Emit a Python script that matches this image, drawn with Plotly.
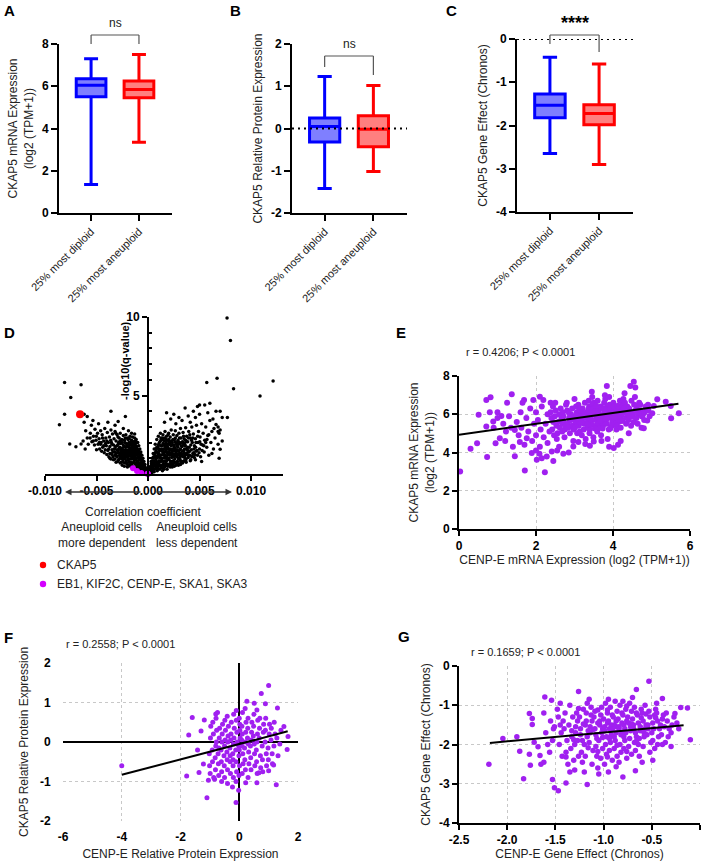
import plotly.graph_objects as go

W, H = 705, 861
def fx(p): return p / W
def fy(p): return 1 - p / H

FONT = "Liberation Sans, Arial, sans-serif"
TXT = "#222222"
GROUPS = ["25% most diploid", "25% most aneuploid"]
BLUE, RED = "#0000ff", "#ff0000"
BLUE_FILL, RED_FILL = "rgba(0,0,255,0.5)", "rgba(255,0,0,0.5)"
PURPLE = "#a020f0"
MAGENTA = "#d400ff"

# ---- box statistics: [lowerfence, q1, median, q3, upperfence] ----
A_diploid = [1.35, 5.50, 6.05, 6.35, 7.30]
A_aneuploid = [3.35, 5.45, 5.85, 6.25, 7.50]
B_diploid = [-1.42, -0.32, 0.05, 0.25, 1.23]
B_aneuploid = [-1.02, -0.43, -0.02, 0.30, 1.02]
C_diploid = [-2.65, -1.82, -1.53, -1.27, -0.42]
C_aneuploid = [-2.90, -1.98, -1.72, -1.52, -0.58]

# ---- D volcano (x in units of 1e-3 correlation, y = -log10 q) ----
D_left = [
(-0.1,0.1),(-0.15,0.25),(-0.2,0.05),(-0.25,0.4),(-0.3,0.2),(-0.3,0.6),(-0.35,0.1),(-0.4,0.45),(-0.4,0.8),(-0.45,0.3),
(-0.5,0.15),(-0.5,0.6),(-0.5,1.0),(-0.55,0.4),(-0.6,0.8),(-0.6,1.2),(-0.65,0.25),(-0.65,0.55),(-0.7,1.0),(-0.7,1.4),
(-0.75,0.7),(-0.75,0.35),(-0.8,1.15),(-0.8,1.6),(-0.85,0.5),(-0.85,0.9),(-0.9,1.3),(-0.9,1.8),(-0.95,0.7),(-0.95,0.3),
(-1.0,1.05),(-1.0,1.5),(-1.0,2.0),(-1.05,0.55),(-1.1,1.25),(-1.1,1.75),(-1.1,0.85),(-1.15,2.2),(-1.15,0.4),(-1.2,1.0),
(-1.2,1.45),(-1.2,1.95),(-1.25,0.65),(-1.3,1.2),(-1.3,1.7),(-1.3,2.3),(-1.35,0.9),(-1.35,0.45),(-1.4,1.5),(-1.4,2.05),
(-1.45,1.1),(-1.45,0.7),(-1.5,1.8),(-1.5,2.35),(-1.5,1.3),(-1.55,0.5),(-1.6,0.95),(-1.6,1.6),(-1.6,2.15),(-1.65,1.35),
(-1.7,0.75),(-1.7,1.9),(-1.75,2.4),(-1.75,1.15),(-1.8,0.55),(-1.8,1.55),(-1.85,2.0),(-1.9,0.9),(-1.9,1.3),(-1.95,1.75),
(-2.0,2.3),(-2.0,0.6),(-2.0,1.1),(-2.05,1.5),(-2.1,1.95),(-2.1,0.85),(-2.15,2.5),(-2.2,1.3),(-2.2,1.7),(-2.25,0.7),
(-2.3,2.15),(-2.3,1.05),(-2.35,1.5),(-2.4,1.85),(-2.4,2.45),(-2.45,0.9),(-2.5,1.25),(-2.5,1.65),(-2.55,2.2),(-2.6,0.75),
(-2.6,1.45),(-2.65,1.95),(-2.7,1.1),(-2.7,2.6),(-2.75,1.7),(-2.8,0.95),(-2.8,2.3),(-2.85,1.35),(-2.9,1.9),(-2.95,0.8),
(-3.0,1.55),(-3.0,2.5),(-3.05,1.15),(-3.1,2.1),(-3.15,1.75),(-3.2,0.95),(-3.2,2.7),(-3.25,1.4),(-3.3,2.25),(-3.35,1.85),
(-3.4,1.1),(-3.45,2.55),(-3.5,1.55),(-3.55,2.0),(-3.6,0.95),(-3.6,2.8),(-3.65,1.3),(-3.7,1.75),(-3.75,2.35),(-3.8,1.1),
(-3.85,2.0),(-3.9,1.5),(-3.95,2.65),(-4.0,1.25),(-4.05,1.8),(-4.1,2.3),(-4.15,1.55),(-4.2,2.9),(-4.25,1.35),(-4.3,2.1),
(-4.4,1.7),(-4.45,2.5),(-4.5,1.45),(-4.55,2.0),(-4.6,2.75),(-4.7,1.6),(-4.75,2.25),(-4.85,1.9),(-4.9,2.6),(-5.0,1.55),
(-5.05,2.15),(-5.15,2.85),(-5.2,1.85),(-5.3,2.4),(-5.45,2.05),(-5.5,3.1),(-5.6,2.6),(-5.8,1.9),(-5.9,2.3),(-6.05,2.75),
(-6.2,3.3),(-5.35,3.4),(-4.8,3.2),(-3.9,3.3),(-3.2,3.1),(-2.9,3.35),(-2.4,2.9),(-1.9,2.75),(-1.6,2.6),(-1.3,2.55),
(-6.3,2.1),(-6.1,1.6),
(-0.55,0.75),(-0.7,0.6),(-0.85,1.35),(-0.95,1.05),(-1.05,1.6),(-1.15,1.3),(-1.25,1.8),(-1.25,1.05),(-1.35,1.55),(-1.45,1.9),
(-1.45,1.4),(-1.55,1.7),(-1.55,1.05),(-1.65,2.0),(-1.65,0.7),(-1.75,1.45),(-1.85,1.2),(-1.85,1.75),(-1.95,2.2),(-2.05,1.25),
(-2.15,1.7),(-2.25,2.0),(-2.35,1.2),(-2.45,1.55),(-2.55,1.0),(-2.65,1.6),(-2.75,1.3),(-2.85,2.0),(-3.0,1.8),(-3.1,1.3),
(-3.3,1.6),(-3.5,1.9),(-3.7,1.3),(-4.0,2.1),(-4.3,1.8),(-4.6,1.9),
(-0.22,0.3),(-0.32,0.45),(-0.42,0.2),(-0.52,0.85),(-0.62,0.45),(-0.72,1.25),(-0.82,0.65),(-0.92,1.55),(-1.02,0.8),(-1.12,1.55),
(-1.22,2.1),(-1.32,1.0),(-1.42,1.7),(-1.52,2.05),(-1.62,1.2),(-1.72,1.65),(-1.82,2.25),(-1.92,1.5),(-2.02,1.85),(-2.12,1.1),
(-2.22,2.3),(-2.32,1.75),(-2.42,1.3),(-2.52,2.0),(-2.62,1.2),(-2.72,2.1),(-2.82,1.6),(-2.92,2.35),(-3.02,1.35),(-3.12,2.6),
(-3.22,1.6),(-3.42,1.4),(-3.62,2.15),(-3.82,1.6),(-4.12,1.95),(-4.42,2.3),(-4.72,2.0),(-5.02,2.4),(-5.32,2.1),(-5.62,2.3),
(-0.2,0.15),(-0.3,0.35),(-0.35,0.5),(-0.45,0.55),(-0.45,0.15),(-0.55,0.6),(-0.6,0.35),(-0.65,0.9),(-0.7,0.2),(-0.75,1.1),
(-0.8,0.45),(-0.85,0.7),(-0.9,1.05),(-0.9,0.4),(-0.95,1.4),(-1.0,0.6),(-1.0,0.25),(-1.05,1.2),(-1.1,1.55),(-1.1,0.5),
(-1.15,0.95),(-1.2,1.7),(-1.2,0.7),(-1.25,1.35),(-1.3,0.3),(-1.3,0.95),(-1.35,1.9),(-1.4,0.75),(-1.4,1.25),(-1.45,1.65),
(-1.5,0.45),(-1.5,1.05),(-1.55,1.45),(-1.6,2.0),(-1.6,0.65),(-1.65,1.15),(-1.7,1.6),(-1.7,0.5),(-1.75,0.95),(-1.8,1.3),
(-1.8,1.85),(-1.85,0.75),(-1.9,1.55),(-1.95,1.0),(-2.0,0.45),(-2.0,1.35),(-2.05,1.8),(-2.1,0.7),(-2.15,1.15),(-2.2,1.5),
(-2.25,0.95),(-2.3,0.5),(-2.35,1.35),(-2.4,0.75),(-2.45,1.15),(-2.5,0.55),(-2.55,1.4),(-2.6,1.0),(-2.7,0.7),(-2.75,1.2),
(-2.85,0.9),(-2.9,1.5),(-3.0,1.1),(-3.1,0.75),(-3.2,1.2),(-3.35,0.9),(-3.5,1.25),(-3.7,1.0),
(-8.1,5.83),(-6.5,5.68),(-7.5,4.87),(-8.1,3.81),(-8.6,3.13),(-7.6,1.91),(-7.0,1.74),(-6.5,1.91),(-5.9,3.66),(-3.6,4.0),
(-2.2,3.66),(-6.2,3.8),
]
D_right = [
(0.1,0.1),(0.15,0.3),(0.2,0.05),(0.25,0.5),(0.3,0.2),(0.3,0.8),(0.35,0.4),(0.4,1.0),(0.4,0.1),(0.45,0.6),
(0.5,1.3),(0.5,0.3),(0.55,0.85),(0.6,1.6),(0.6,0.15),(0.65,0.55),(0.7,1.15),(0.7,1.9),(0.75,0.35),(0.8,0.8),
(0.8,1.45),(0.85,2.2),(0.9,0.2),(0.9,1.05),(0.95,1.7),(1.0,0.5),(1.0,2.4),(1.05,1.3),(1.1,0.8),(1.1,2.0),
(1.15,0.3),(1.2,1.55),(1.2,2.6),(1.25,1.0),(1.3,0.55),(1.3,2.2),(1.35,1.8),(1.4,1.25),(1.4,0.2),(1.45,2.5),
(1.5,0.8),(1.5,1.6),(1.55,2.1),(1.6,1.05),(1.6,0.45),(1.65,2.7),(1.7,1.4),(1.7,1.9),(1.75,0.7),(1.8,2.4),
(1.8,1.15),(1.85,0.3),(1.9,1.7),(1.9,2.15),(1.95,0.95),(2.0,1.4),(2.0,2.6),(2.05,0.55),(2.1,1.9),(2.1,1.2),
(2.15,2.35),(2.2,0.8),(2.2,1.6),(2.25,2.8),(2.3,1.05),(2.3,2.1),(2.35,0.45),(2.4,1.45),(2.4,1.85),(2.45,2.5),
(2.5,0.7),(2.5,1.25),(2.55,2.2),(2.6,1.65),(2.6,0.95),(2.65,2.75),(2.7,1.4),(2.7,0.55),(2.75,1.95),(2.8,1.1),
(2.8,2.45),(2.85,0.8),(2.9,1.7),(2.9,2.15),(2.95,1.25),(3.0,0.65),(3.0,2.6),(3.05,1.5),(3.1,1.95),(3.1,0.95),
(3.15,2.9),(3.2,1.3),(3.2,2.3),(3.25,0.75),(3.3,1.75),(3.35,2.05),(3.4,1.1),(3.4,2.65),(3.45,1.5),(3.5,0.85),
(3.5,2.25),(3.55,1.9),(3.6,1.25),(3.65,2.95),(3.7,1.6),(3.7,0.95),(3.75,2.4),(3.8,1.35),(3.85,2.05),(3.9,1.05),
(3.95,2.7),(4.0,1.7),(4.05,1.2),(4.1,2.3),(4.15,0.9),(4.2,1.55),(4.25,3.0),(4.3,2.0),(4.35,1.3),(4.4,2.55),
(4.5,1.05),(4.5,1.8),(4.6,2.25),(4.65,1.45),(4.7,3.1),(4.8,1.2),(4.85,2.0),(4.9,2.7),(5.0,1.6),(5.05,2.35),
(5.1,1.1),(5.2,3.2),(5.3,1.85),(5.35,2.6),(5.45,1.4),(5.5,2.15),(5.6,3.0),(5.7,1.7),(5.8,2.45),(5.9,1.2),
(6.0,3.4),(6.1,2.0),(6.2,2.7),(6.35,1.6),(6.5,2.3),(6.6,3.15),(6.8,1.9),(6.9,2.6),(7.0,2.8),(7.2,2.1),
(1.6,3.3),(1.8,3.9),(2.2,3.5),(2.5,3.8),(2.7,3.2),(3.0,3.6),(3.3,3.4),(3.6,4.2),(3.9,3.7),(4.1,3.3),
(4.4,4.0),(4.6,3.6),(4.8,4.3),(5.0,3.8),(5.5,4.4),(5.8,3.9),(6.3,3.5),(6.6,4.0),(6.8,3.0),
(0.55,0.2),(0.65,1.3),(0.75,0.95),(0.85,0.45),(0.95,1.35),(1.05,0.65),(1.05,1.9),(1.15,1.15),(1.25,0.45),(1.25,2.3),
(1.35,0.85),(1.35,1.45),(1.45,0.55),(1.45,1.95),(1.55,1.25),(1.55,0.3),(1.65,0.85),(1.65,1.75),(1.75,1.5),(1.75,2.2),
(1.85,0.6),(1.85,1.0),(1.95,1.9),(1.95,2.5),(2.05,1.6),(2.05,0.9),(2.15,0.45),(2.15,1.35),(2.25,1.8),(2.25,0.6),
(2.35,2.0),(2.35,1.2),(2.45,0.85),(2.45,1.6),(2.55,0.5),(2.55,1.85),(2.65,1.15),(2.65,2.3),(2.75,0.75),(2.75,1.55),
(2.85,2.0),(2.85,1.25),(2.95,0.55),(2.95,1.9),(3.05,2.3),(3.05,1.05),(3.15,1.6),(3.15,0.6),(3.25,2.0),(3.25,1.15),
(3.35,1.45),(3.35,0.7),(3.45,2.4),(3.45,1.85),(3.55,1.05),(3.55,1.6),(3.65,0.85),(3.65,2.15),(3.75,1.25),(3.85,1.7),
(3.95,1.4),(4.05,2.5),(4.15,1.85),(4.25,1.1),(4.35,2.3),(4.45,1.6),(4.55,1.25),(4.65,2.0),(4.75,1.5),(4.95,1.35),
(5.15,1.9),(5.25,1.5),(5.6,2.0),(5.9,2.5),(6.2,1.3),(6.4,2.9),
(0.22,0.35),(0.32,0.65),(0.42,0.35),(0.52,1.05),(0.62,0.7),(0.72,1.6),(0.82,1.1),(0.92,0.6),(1.02,1.6),(1.12,1.05),
(1.22,1.8),(1.32,1.0),(1.42,2.2),(1.52,1.4),(1.62,2.3),(1.72,1.05),(1.82,1.8),(1.92,1.25),(2.02,2.2),(2.12,1.55),
(2.22,2.05),(2.32,1.35),(2.42,2.2),(2.52,1.5),(2.62,2.05),(2.72,1.2),(2.82,1.8),(2.92,1.45),(3.02,2.0),(3.12,1.2),
(3.22,1.8),(3.32,1.25),(3.42,2.0),(3.52,1.35),(3.62,1.8),(3.72,2.05),(3.82,1.55),(3.92,2.3),(4.02,1.45),(4.22,2.15),
(4.42,1.35),(4.62,1.7),(4.82,2.4),(5.02,2.05),(5.42,1.8),(5.72,2.2),
(0.2,0.2),(0.3,0.45),(0.35,0.15),(0.45,0.8),(0.5,0.45),(0.55,1.1),(0.6,0.3),(0.65,0.75),(0.7,1.35),(0.75,0.5),
(0.8,1.0),(0.85,1.7),(0.9,0.7),(0.95,0.35),(0.95,1.2),(1.0,1.85),(1.05,0.85),(1.1,1.5),(1.15,0.55),(1.2,1.2),
(1.2,2.1),(1.25,0.8),(1.3,1.6),(1.35,0.4),(1.4,1.0),(1.4,2.3),(1.45,1.45),(1.5,0.65),(1.55,1.85),(1.6,1.2),
(1.65,0.55),(1.7,1.6),(1.75,2.0),(1.8,0.85),(1.85,1.35),(1.9,0.5),(1.95,1.6),(2.0,1.0),(2.05,2.05),(2.1,0.65),
(2.15,1.25),(2.2,1.85),(2.3,0.8),(2.35,1.5),(2.4,0.6),(2.5,1.1),(2.55,1.7),(2.6,0.75),(2.7,1.3),(2.8,0.6),
(2.85,1.5),(2.95,0.95),(3.05,1.3),(3.15,0.85),(3.3,1.2),(3.4,0.8),(3.55,1.15),(3.7,0.75),(3.9,1.2),(4.1,0.85),
(4.3,1.15),(4.6,0.9),
(7.67,9.94),(8.0,8.5),(8.3,5.43),(6.7,6.1),(5.7,5.83),(7.7,3.6),(7.0,4.0),(6.0,4.5),(5.0,4.4),(7.0,1.57),
(6.8,2.7),(12.14,5.92),(10.87,4.97),(7.2,3.6),(6.9,1.0),(5.2,0.8),
]
D_ckap5 = [(-6.6, 3.81)]
D_partners = [(-1.46, 0.36), (-1.07, 0.19), (-0.65, 0.06), (-0.05, 0.02), (0.0, 0.0)]

# ---- E: CENP-E vs CKAP5 mRNA ----
E_pts = [
(0.03,3.0),(0.3,4.19),(0.47,4.49),(0.51,5.97),(0.73,3.76),(0.71,6.75),(0.82,6.89),(0.71,5.36),(0.89,5.62),(0.95,4.49),
(1.06,4.75),(1.10,5.91),(1.22,5.1),(1.37,7.04),(1.45,3.8),(1.69,6.75),(1.71,3.06),(1.45,5.18),(1.76,4.75),(1.89,3.97),
(2.02,3.62),(2.09,3.93),(2.23,2.97),(2.28,3.79),(2.41,4.05),(2.71,3.93),(2.97,4.31),(3.28,4.45),(3.5,4.57),(4.02,4.23),
(4.41,5.0),(4.54,7.7),(4.58,7.4),(4.45,7.48),(3.84,7.48),(3.45,7.18),(5.15,6.78),(5.37,6.66),(5.5,6.43),(5.51,5.79),
(5.71,6.05),(5.02,6.05),(5.06,6.43),(4.89,5.67),(4.76,5.88),(4.8,5.27),(2.1,6.92),(2.19,6.75),(1.93,6.75),
(0.9,5.3),(1.0,5.8),(1.15,5.5),(1.2,4.6),(1.3,5.9),(1.35,5.3),(1.5,5.6),(1.55,4.9),(1.6,6.1),(1.62,5.3),
(1.7,4.4),(1.75,5.8),(1.8,5.1),(1.85,6.3),(1.9,4.6),(1.95,5.5),(2.0,4.9),(2.0,6.1),(2.05,5.7),(2.1,4.3),
(2.12,5.2),(2.15,6.4),(2.2,4.8),(2.25,5.5),(2.3,6.0),(2.3,4.5),(2.35,5.1),(2.38,6.6),(1.4,4.3),(1.58,4.55),
(1.0,6.1),(0.8,6.1),(1.25,6.6),(1.65,6.6),(2.0,4.1),(2.15,3.7),(2.45,3.55),(2.6,4.3),(2.55,4.1),(2.85,4.0),
(3.1,4.55),(3.4,4.35),(3.7,4.6),(3.9,4.3),(4.2,4.6),
(2.42,5.2),(2.45,5.6),(2.38,6.1),(2.47,4.9),(2.40,5.8),(2.44,6.4),
(2.53,5.4),(2.49,5.9),(2.56,5.0),(2.51,6.2),(2.58,5.6),(2.54,4.7),(2.50,6.6),
(2.62,5.3),(2.66,5.7),(2.60,6.0),(2.68,5.1),(2.64,6.3),(2.69,5.5),
(2.72,5.6),(2.75,5.2),(2.71,5.9),(2.78,6.5),(2.74,4.8),(2.77,5.4),(2.70,6.1),
(2.83,5.5),(2.86,5.8),(2.81,6.2),(2.88,5.0),(2.84,5.3),(2.80,6.6),(2.89,5.7),
(2.92,5.9),(2.95,5.4),(2.91,6.0),(2.98,5.2),(2.94,6.3),(2.97,4.6),(2.90,5.7),
(3.03,5.6),(3.06,6.1),(3.01,5.3),(3.08,5.8),(3.04,6.4),(3.07,5.0),(3.00,6.8),(3.09,5.5),
(3.12,5.7),(3.15,6.0),(3.11,5.4),(3.18,6.2),(3.14,5.1),(3.17,5.9),(3.10,6.5),(3.19,4.9),
(3.22,5.8),(3.25,5.5),(3.21,6.3),(3.28,6.0),(3.24,5.2),(3.27,6.6),(3.20,5.6),(3.29,4.7),
(3.32,6.1),(3.35,5.6),(3.31,5.9),(3.38,6.4),(3.34,5.3),(3.37,6.7),(3.30,5.8),(3.39,5.0),
(3.42,5.9),(3.45,6.2),(3.41,5.5),(3.48,6.0),(3.44,5.7),(3.47,6.5),(3.40,5.2),(3.49,4.8),(3.46,6.9),
(3.52,6.0),(3.55,5.7),(3.51,6.3),(3.58,5.4),(3.54,6.1),(3.57,5.9),(3.50,6.6),(3.59,5.1),
(3.62,6.2),(3.65,5.8),(3.61,5.5),(3.68,6.4),(3.64,6.0),(3.67,5.3),(3.60,6.7),(3.69,4.9),
(3.72,5.9),(3.75,6.3),(3.71,5.6),(3.78,6.1),(3.74,5.4),(3.77,6.6),(3.70,5.8),(3.79,7.0),
(3.82,6.0),(3.85,6.4),(3.81,5.7),(3.88,6.2),(3.84,5.5),(3.87,5.9),(3.80,6.8),(3.89,5.2),(3.86,4.7),
(3.92,6.1),(3.95,5.8),(3.91,6.5),(3.98,5.6),(3.94,6.3),(3.97,5.4),(3.90,6.9),(3.99,6.0),
(4.02,6.2),(4.05,5.9),(4.01,6.6),(4.08,5.7),(4.04,6.4),(4.07,5.5),(4.00,6.0),(4.09,5.2),
(4.12,6.0),(4.15,6.3),(4.11,5.8),(4.18,6.7),(4.14,5.6),(4.17,6.1),(4.10,5.4),(4.13,4.4),
(4.22,6.1),(4.25,6.5),(4.21,5.9),(4.28,6.3),(4.24,5.7),(4.27,6.8),(4.20,5.3),
(4.32,6.2),(4.35,5.8),(4.31,6.6),(4.38,6.0),(4.34,5.5),(4.37,6.4),(4.30,7.1),
(4.42,6.3),(4.45,6.0),(4.41,5.7),(4.48,6.7),(4.44,6.1),(4.47,5.4),
(4.52,6.1),(4.55,6.5),(4.51,5.9),(4.58,6.2),(4.54,5.6),(4.57,6.9),
(4.62,6.4),(4.65,6.0),(4.61,5.8),(4.68,6.6),(4.64,5.5),
(4.72,6.2),(4.75,5.9),(4.71,6.5),(4.78,6.0),(4.74,5.3),
(4.82,6.1),(4.85,6.4),(4.81,5.7),(4.88,6.3),
(4.92,6.2),(4.95,5.9),(4.91,6.5),
(2.96,5.75),(3.05,5.95),(3.16,5.55),(3.26,5.85),(3.36,6.25),(3.46,5.45),(3.56,6.45),(3.66,5.65),(3.76,6.25),(3.86,6.05),
(3.96,5.95),(4.06,6.15),(4.16,5.95),(4.26,6.05),(4.36,6.15),(3.13,6.25),(3.33,5.45),(3.53,5.25),(3.73,5.25),(3.93,5.25),
(4.03,5.85),(4.23,5.65),(4.43,5.85),(2.86,6.05),(2.66,5.85),(3.43,6.05),(3.63,6.05),(3.83,5.75),(4.13,6.45),(4.33,6.35),
]
E_fit_x = [0.0, 5.7]
E_fit_y = [4.93, 6.55]

# ---- F: CENP-E vs CKAP5 relative protein ----
F_pts = [
(-4.0,-0.6),(-1.6,0.62),(-1.72,0.18),(-1.79,-0.86),(-1.1,-1.41),(-0.11,-1.53),(-0.02,-1.22),(1.0,1.43),(0.75,1.23),(1.3,0.86),
(1.26,-1.08),(1.63,-0.19),(1.66,0.14),(1.52,0.39),(-1.42,-0.2),(-1.3,0.28),(-1.37,-0.77),(-1.05,-0.97),(-0.8,0.71),(-0.74,0.75),
(0.26,1.03),(0.51,0.98),(0.89,0.97),(0.6,0.81),(0.67,-0.78),(1.0,-0.73),(1.17,-0.58),(0.6,-1.03),(0.22,-1.03),(-0.23,-1.14),
(-0.84,-0.94),(-1.22,-0.56),(-1.19,0.56),
(-1.02,-0.3),(-0.98,0.1),(-1.01,-0.6),(-0.97,0.4),(-0.99,-0.8),
(-0.92,-0.2),(-0.88,0.2),(-0.91,-0.5),(-0.87,-0.9),(-0.9,0.5),
(-0.82,-0.4),(-0.78,0.0),(-0.81,-0.7),(-0.77,0.3),(-0.8,-0.1),(-0.79,0.6),
(-0.72,-0.3),(-0.68,0.1),(-0.71,-0.55),(-0.67,0.35),(-0.7,-0.85),(-0.69,-0.15),
(-0.62,-0.2),(-0.58,0.2),(-0.61,-0.5),(-0.57,0.45),(-0.6,-0.75),(-0.59,0.0),(-0.6,-1.0),
(-0.52,-0.35),(-0.48,0.05),(-0.51,-0.6),(-0.47,0.3),(-0.5,-0.1),(-0.49,0.55),(-0.5,-0.9),
(-0.42,-0.25),(-0.38,0.15),(-0.41,-0.45),(-0.37,0.4),(-0.4,-0.7),(-0.39,0.0),(-0.4,-1.05),(-0.41,0.65),
(-0.32,-0.15),(-0.28,0.2),(-0.31,-0.5),(-0.27,0.5),(-0.3,-0.8),(-0.29,0.05),(-0.31,-0.35),
(-0.22,-0.3),(-0.18,0.1),(-0.21,-0.6),(-0.17,0.35),(-0.2,-0.05),(-0.19,0.7),(-0.2,-0.9),(-0.21,-0.45),
(-0.12,-0.2),(-0.08,0.25),(-0.11,-0.5),(-0.07,0.0),(-0.1,0.55),(-0.09,-0.75),(-0.1,0.8),(-0.11,-1.0),
(-0.02,-0.1),(0.02,0.3),(-0.01,-0.35),(0.03,0.1),(0.0,0.6),(0.01,-0.6),(-0.01,-0.85),(0.02,0.45),(0.0,-0.2),
(0.08,0.05),(0.12,-0.3),(0.09,0.4),(0.13,-0.55),(0.1,0.2),(0.11,0.75),(0.1,-0.8),(0.09,-0.1),
(0.18,-0.15),(0.22,0.25),(0.19,-0.45),(0.23,0.5),(0.2,0.0),(0.21,-0.7),(0.2,0.85),
(0.28,0.1),(0.32,-0.25),(0.29,0.35),(0.33,-0.55),(0.3,0.6),(0.31,-0.05),(0.3,-0.9),
(0.38,-0.1),(0.42,0.25),(0.39,-0.4),(0.43,0.5),(0.4,-0.7),(0.41,0.05),
(0.48,0.15),(0.52,-0.3),(0.49,0.4),(0.53,-0.6),(0.5,0.7),(0.51,-0.05),
(0.58,-0.2),(0.62,0.2),(0.59,-0.5),(0.63,0.55),(0.6,0.0),(0.61,-0.8),
(0.68,0.1),(0.72,-0.35),(0.69,0.35),(0.73,-0.65),(0.7,0.6),
(0.78,-0.1),(0.82,0.25),(0.79,-0.45),(0.83,0.45),(0.8,-0.75),
(0.88,0.0),(0.92,-0.3),(0.89,0.3),(0.93,-0.6),(0.9,0.6),
(0.98,-0.15),(1.02,0.2),(0.99,-0.45),(1.03,0.45),
(1.08,0.05),(1.12,-0.3),(1.09,0.35),(1.13,-0.55),
(1.18,-0.1),(1.22,0.2),(1.19,0.5),
(1.28,0.1),(1.32,-0.35),
(1.38,-0.05),(1.42,0.3),
]
F_fit_x = [-4.0, 1.65]
F_fit_y = [-0.83, 0.27]

# ---- G: CENP-E vs CKAP5 gene effect ----
G_pts = [
(-2.19,-2.5),(-2.045,-1.85),(-1.83,-2.87),(-1.87,-2.17),(-1.77,-2.25),(-1.77,-1.21),(-1.74,-1.34),(-1.74,-1.49),(-1.72,-1.94),(-1.76,-2.53),
(-1.68,-2.06),(-1.66,-2.28),(-1.65,-2.5),(-1.61,-0.79),(-1.54,-0.87),(-1.53,-2.89),(-1.51,-3.1),(-1.47,-3.18),(-1.39,-2.98),(-1.17,-3.02),
(-1.26,-0.65),(-0.87,-2.57),(-0.8,-2.83),(-0.67,-2.67),(-0.66,-0.6),(-0.53,-0.39),(-0.39,-0.83),(-0.26,-1.21),(-0.2,-1.06),(-0.13,-1.07),
(-0.1,-1.88),(-0.39,-2.0),(-0.49,-2.4),(-1.51,-1.55),(-1.39,-2.32),(-1.3,-2.65),(-1.2,-2.7),(-1.05,-2.75),(-0.95,-2.7),(-0.6,-2.45),
(-1.45,-0.95),(-1.15,-0.85),(-0.95,-0.85),(-0.8,-0.9),(-0.7,-0.8),(-0.45,-0.95),(-0.3,-2.05),(-1.9,-1.8),(-1.62,-2.45),(-1.35,-2.7),
(-1.62,-1.2),(-1.58,-2.0),(-1.6,-1.7),
(-1.55,-1.4),(-1.53,-1.9),(-1.56,-2.2),(-1.52,-1.6),
(-1.47,-1.3),(-1.44,-1.7),(-1.46,-2.0),(-1.43,-2.3),(-1.45,-1.5),(-1.48,-1.1),
(-1.41,-1.6),(-1.38,-1.9),(-1.4,-1.2),(-1.39,-2.2),(-1.42,-1.4),(-1.37,-2.5),
(-1.36,-1.5),(-1.33,-1.8),(-1.34,-2.1),(-1.32,-1.3),(-1.35,-1.0),(-1.31,-2.4),(-1.33,-1.65),
(-1.29,-1.7),(-1.27,-1.4),(-1.3,-2.0),(-1.28,-1.2),(-1.26,-2.3),(-1.29,-1.55),(-1.27,-1.9),
(-1.24,-1.6),(-1.22,-1.9),(-1.25,-1.3),(-1.23,-2.2),(-1.21,-1.1),(-1.24,-1.75),(-1.22,-2.45),
(-1.19,-1.5),(-1.17,-1.8),(-1.2,-2.0),(-1.18,-1.2),(-1.16,-1.65),(-1.19,-2.3),(-1.17,-0.95),(-1.18,-1.4),
(-1.14,-1.7),(-1.12,-1.4),(-1.15,-1.95),(-1.13,-1.25),(-1.11,-2.15),(-1.14,-1.55),(-1.12,-2.5),(-1.13,-1.05),
(-1.09,-1.6),(-1.07,-1.85),(-1.1,-1.3),(-1.08,-2.05),(-1.06,-1.45),(-1.09,-1.15),(-1.07,-2.3),(-1.08,-1.75),(-1.06,-2.6),
(-1.04,-1.5),(-1.02,-1.7),(-1.05,-1.9),(-1.03,-1.25),(-1.01,-2.1),(-1.04,-1.4),(-1.02,-1.05),(-1.03,-2.35),(-1.01,-1.6),
(-0.99,-1.55),(-0.97,-1.8),(-1.0,-1.35),(-0.98,-2.0),(-0.96,-1.2),(-0.99,-1.65),(-0.97,-2.25),(-0.98,-0.95),(-0.96,-1.45),(-0.99,-2.5),
(-0.94,-1.6),(-0.92,-1.75),(-0.95,-1.4),(-0.93,-1.95),(-0.91,-1.25),(-0.94,-2.15),(-0.92,-1.5),(-0.93,-1.05),(-0.91,-2.4),(-0.94,-1.85),
(-0.89,-1.5),(-0.87,-1.7),(-0.9,-1.3),(-0.88,-1.9),(-0.86,-1.15),(-0.89,-2.1),(-0.87,-1.55),(-0.88,-0.9),(-0.86,-2.3),(-0.89,-1.8),(-0.87,-1.4),
(-0.84,-1.55),(-0.82,-1.75),(-0.85,-1.35),(-0.83,-2.0),(-0.81,-1.2),(-0.84,-1.6),(-0.82,-2.2),(-0.83,-1.0),(-0.81,-1.45),(-0.84,-2.45),
(-0.79,-1.5),(-0.77,-1.7),(-0.8,-1.25),(-0.78,-1.9),(-0.76,-1.4),(-0.79,-2.1),(-0.77,-1.1),(-0.78,-1.6),(-0.76,-2.35),(-0.79,-1.8),
(-0.74,-1.45),(-0.72,-1.65),(-0.75,-1.3),(-0.73,-1.85),(-0.71,-1.15),(-0.74,-2.05),(-0.72,-1.55),(-0.73,-0.95),(-0.71,-2.25),
(-0.69,-1.5),(-0.67,-1.7),(-0.7,-1.35),(-0.68,-1.95),(-0.66,-1.2),(-0.69,-1.6),(-0.67,-2.15),(-0.68,-1.05),(-0.66,-1.8),
(-0.64,-1.45),(-0.62,-1.65),(-0.65,-1.25),(-0.63,-1.85),(-0.61,-1.1),(-0.64,-2.0),(-0.62,-1.55),(-0.63,-2.3),
(-0.59,-1.4),(-0.57,-1.6),(-0.6,-1.2),(-0.58,-1.8),(-0.56,-1.5),(-0.59,-2.05),(-0.57,-1.0),(-0.58,-1.7),
(-0.54,-1.5),(-0.52,-1.3),(-0.55,-1.75),(-0.53,-1.15),(-0.51,-1.95),(-0.54,-1.6),(-0.52,-2.2),
(-0.49,-1.45),(-0.47,-1.25),(-0.5,-1.7),(-0.48,-1.6),(-0.46,-1.1),(-0.49,-1.9),(-0.47,-2.1),
(-0.44,-1.4),(-0.42,-1.6),(-0.45,-1.2),(-0.43,-1.8),(-0.41,-1.5),(-0.44,-2.0),
(-0.39,-1.35),(-0.37,-1.55),(-0.4,-1.75),(-0.38,-1.25),(-0.36,-1.95),
(-0.34,-1.4),(-0.32,-1.6),(-0.35,-1.2),(-0.33,-1.8),
(-0.29,-1.5),(-0.27,-1.3),(-0.3,-1.7),
(-0.24,-1.45),(-0.22,-1.6),
(-1.21,-1.48),(-1.11,-1.62),(-1.01,-1.82),(-0.91,-1.62),(-0.81,-1.72),(-0.71,-1.48),(-0.61,-1.32),(-1.16,-2.08),(-1.06,-2.18),(-0.96,-2.32),
(-0.86,-2.02),(-0.76,-2.18),(-0.66,-1.92),(-1.26,-1.08),(-1.06,-1.12),(-0.96,-1.12),(-0.76,-1.02),(-0.56,-1.22),(-0.46,-1.32),(-1.31,-1.88),
]
G_fit_x = [-2.18, -0.17]
G_fit_y = [-1.96, -1.51]

# tick labels
A_ticks = [0, 2, 4, 6, 8]
B_ticks = [-2, -1, 0, 1, 2]
C_ticks = [-4, -3, -2, -1, 0]
D_xticks = [-0.010, -0.005, 0.0, 0.005, 0.010]
D_xlabels = ["-0.010", "-0.005", "0.000", "0.005", "0.010"]
E_xticks = [0, 2, 4, 6]
E_yticks = [0, 2, 4, 6, 8]
F_xticks = [-6, -4, -2, 0, 2]
F_yticks = [-2, -1, 0, 1, 2]
G_xticks = [-2.5, -2.0, -1.5, -1.0, -0.5, 0.0]
G_xlabels = ["-2.5", "-2.0", "-1.5", "-1.0", "-0.5", "0.0"]
G_yticks = [0, -1, -2, -3, -4]

def lbl(vals):
    return [("-" if v < 0 else "") + str(abs(v)) for v in vals]

fig = go.Figure()

def add_box(stats, pos, color, fill, n):
    fig.add_trace(go.Box(
        x=[pos], lowerfence=[stats[0]], q1=[stats[1]], median=[stats[2]],
        q3=[stats[3]], upperfence=[stats[4]], width=0.62, whiskerwidth=0.47,
        line=dict(color=color, width=3), fillcolor=fill, boxpoints=False,
        hoverinfo="skip", showlegend=False,
        xaxis="x" if n == 1 else f"x{n}", yaxis="y" if n == 1 else f"y{n}"))

add_box(A_diploid, 0, BLUE, BLUE_FILL, 1)
add_box(A_aneuploid, 1, RED, RED_FILL, 1)
add_box(B_diploid, 0, BLUE, BLUE_FILL, 2)
add_box(B_aneuploid, 1, RED, RED_FILL, 2)
add_box(C_diploid, 0, BLUE, BLUE_FILL, 3)
add_box(C_aneuploid, 1, RED, RED_FILL, 3)

def sc(pts, n, color, size, scale=1.0):
    fig.add_trace(go.Scatter(
        x=[p[0] * scale for p in pts], y=[p[1] for p in pts], mode="markers",
        marker=dict(color=color, size=size, line=dict(width=0)),
        showlegend=False, hoverinfo="skip", xaxis=f"x{n}", yaxis=f"y{n}", cliponaxis=False))

def fit(xs, ys, n):
    fig.add_trace(go.Scatter(x=xs, y=ys, mode="lines", line=dict(color="black", width=2),
                             showlegend=False, hoverinfo="skip", xaxis=f"x{n}", yaxis=f"y{n}"))

sc(D_left, 4, "black", 3.5, 1e-3)
sc(D_right, 4, "black", 3.5, 1e-3)
sc(D_partners, 4, MAGENTA, 6, 1e-3)
sc(D_ckap5, 4, RED, 8, 1e-3)
sc(E_pts, 5, PURPLE, 6)
fit(E_fit_x, E_fit_y, 5)
sc(F_pts, 6, PURPLE, 5)
fit(F_fit_x, F_fit_y, 6)
sc(G_pts, 7, PURPLE, 5.5)
fit(G_fit_x, G_fit_y, 7)

TICKF = dict(family=FONT, size=12, color="black", weight="bold")
TITLEF = dict(family=FONT, size=12, color=TXT)
COMMON = dict(automargin=False, fixedrange=True)

def box_axes(n, x0, x1, y0, y1, yr, yt, title):
    xk = "xaxis" if n == 1 else f"xaxis{n}"
    yk = "yaxis" if n == 1 else f"yaxis{n}"
    ya = "y" if n == 1 else f"y{n}"
    xa = "x" if n == 1 else f"x{n}"
    fig.layout[xk] = dict(domain=[fx(x0), fx(x1)], anchor=ya, range=[-0.67, 1.69],
                          tickvals=[0, 1], ticktext=GROUPS, tickangle=-45,
                          showline=True, linecolor="black", linewidth=2, ticks="outside",
                          ticklen=6, tickwidth=2, tickcolor="black",
                          tickfont=dict(family=FONT, size=11, color="#1a1a1a"),
                          showgrid=False, zeroline=False, **COMMON)
    fig.layout[yk] = dict(domain=[fy(y1), fy(y0)], anchor=xa, range=yr,
                          tickvals=yt, ticktext=lbl(yt),
                          showline=True, linecolor="black", linewidth=2, ticks="outside",
                          ticklen=6, tickwidth=2, tickcolor="black", tickfont=TICKF,
                          showgrid=False, zeroline=False,
                          title=dict(text=title, font=TITLEF, standoff=6), **COMMON)

box_axes(1, 59, 172, 44, 213, [0, 8], A_ticks, "CKAP5 mRNA Expression<br>(log2 (TPM+1))")
box_axes(2, 292, 407, 44, 213, [-2, 2], B_ticks, "CKAP5 Relative Protein Expression")
box_axes(3, 517, 633, 39, 212, [-4, 0], C_ticks, "CKAP5 Gene Effect (Chronos)")

fig.layout["xaxis4"] = dict(domain=[fx(45), fx(283)], anchor="y4", range=[-0.0100, 0.0131],
                            tickvals=D_xticks, ticktext=D_xlabels, showline=True, linecolor="black",
                            linewidth=2, ticks="outside", ticklen=5, tickwidth=2, tickcolor="black",
                            tickfont=TICKF, showgrid=False, zeroline=False, **COMMON)
fig.layout["yaxis4"] = dict(domain=[fy(474), fy(317)], anchor="free", position=fx(148), range=[0, 10],
                            tickvals=[5, 10], ticktext=["5", "10"], showline=True, linecolor="black",
                            linewidth=2, ticks="outside", ticklen=5, tickwidth=2, tickcolor="black",
                            tickfont=TICKF, showgrid=False, zeroline=False,
                            minor=dict(tickvals=[1, 2, 3, 4, 6, 7, 8, 9], ticks="inside", ticklen=3,
                                       tickwidth=1.5, tickcolor="black", showgrid=False), **COMMON)

GRID = dict(showgrid=True, gridcolor="#c8c8c8", griddash="dot", gridwidth=1)
HIDDEN_TICKS = dict(ticks="outside", tickcolor="rgba(0,0,0,0)")
fig.layout["xaxis5"] = dict(domain=[fx(459), fx(690)], anchor="y5", range=[0, 6],
                            tickvals=E_xticks, ticktext=lbl(E_xticks), showline=True, linecolor="black",
                            linewidth=2, ticks="outside", ticklen=5, tickwidth=2, tickcolor="black",
                            tickfont=TICKF, zeroline=False,
                            title=dict(text="CENP-E mRNA Expression (log2 (TPM+1))", font=TITLEF, standoff=1),
                            **GRID, **COMMON)
fig.layout["yaxis5"] = dict(domain=[fy(529), fy(376)], anchor="x5", range=[0, 8],
                            tickvals=E_yticks, ticktext=lbl(E_yticks), showline=True, linecolor="black",
                            linewidth=2, ticks="outside", ticklen=5, tickwidth=2, tickcolor="black",
                            tickfont=TICKF, zeroline=False,
                            title=dict(text="CKAP5 mRNA Expression<br>(log2 (TPM+1))", font=TITLEF, standoff=6),
                            **GRID, **COMMON)
fig.layout["xaxis6"] = dict(domain=[fx(63), fx(298)], anchor="y6", range=[-6, 2],
                            tickvals=F_xticks, ticktext=lbl(F_xticks), showline=False, ticklen=5,
                            tickfont=TICKF, zeroline=True, zerolinecolor="black", zerolinewidth=1.8,
                            title=dict(text="CENP-E Relative Protein Expression", font=TITLEF, standoff=6),
                            **HIDDEN_TICKS, **GRID, **COMMON)
fig.layout["yaxis6"] = dict(domain=[fy(821), fy(663)], anchor="x6", range=[-2, 2],
                            tickvals=F_yticks, ticktext=lbl(F_yticks), showline=False, ticklen=9,
                            tickfont=TICKF, zeroline=True, zerolinecolor="black", zerolinewidth=1.8,
                            title=dict(text="CKAP5 Relative Protein Expression", font=TITLEF, standoff=8),
                            **HIDDEN_TICKS, **GRID, **COMMON)
fig.layout["xaxis7"] = dict(domain=[fx(459), fx(700)], anchor="y7", range=[-2.5, 0],
                            tickvals=G_xticks, ticktext=G_xlabels, showline=True, linecolor="black",
                            linewidth=2, ticks="outside", ticklen=5, tickwidth=2, tickcolor="black",
                            tickfont=TICKF, zeroline=False,
                            title=dict(text="CENP-E Gene Effect (Chronos)", font=TITLEF, standoff=3),
                            **GRID, **COMMON)
fig.layout["yaxis7"] = dict(domain=[fy(823), fy(666)], anchor="x7", range=[-4, 0],
                            tickvals=G_yticks, ticktext=lbl(G_yticks), showline=True, linecolor="black",
                            linewidth=2, ticks="outside", ticklen=5, tickwidth=2, tickcolor="black",
                            tickfont=TICKF, zeroline=False,
                            title=dict(text="CKAP5 Gene Effect (Chronos)", font=TITLEF, standoff=6),
                            **GRID, **COMMON)

shapes = []
annots = []

def bracket(xa, top, yl, yr, text, bold=False):
    c = dict(color="#555555", width=1.2)
    shapes.append(dict(type="line", xref=xa, yref="paper", x0=0, x1=1, y0=fy(top), y1=fy(top), line=c))
    shapes.append(dict(type="line", xref=xa, yref="paper", x0=0, x1=0, y0=fy(top), y1=fy(yl), line=c))
    shapes.append(dict(type="line", xref=xa, yref="paper", x0=1, x1=1, y0=fy(top), y1=fy(yr), line=c))
    annots.append(dict(xref=xa, yref="paper", x=0.5, y=fy(top - (0 if bold else 3)), yanchor="bottom",
                       showarrow=False, text=("<b>%s</b>" % text) if bold else text,
                       font=dict(family=FONT, size=18 if bold else 12, color="black" if bold else TXT)))

bracket("x", 35, 44, 44, "ns")
bracket("x2", 56, 67, 75, "ns")
bracket("x3", 35, 44, 52, "****", bold=True)

for xa, ya in (("x2", "y2"), ("x3", "y3")):
    shapes.append(dict(type="line", xref=f"{xa} domain", yref=ya, x0=0, x1=1, y0=0, y1=0,
                       line=dict(color="black", width=2, dash="2px,4px")))

for t, x, y in (("A", 2, 10), ("B", 228, 10), ("C", 444, 10), ("D", 2, 333),
                ("E", 394, 333), ("F", 2, 637), ("G", 396, 636)):
    annots.append(dict(xref="paper", yref="paper", x=fx(x), y=fy(y), xanchor="left", yanchor="middle",
                       showarrow=False, text=f"<b>{t}</b>", font=dict(family=FONT, size=15, color="black")))

for t, x, y in (("r = 0.4206; P < 0.0001", 464, 352), ("r = 0.2558; P < 0.0001", 64, 644),
                ("r = 0.1659; P < 0.0001", 469, 652)):
    annots.append(dict(xref="paper", yref="paper", x=fx(x), y=fy(y), xanchor="left", yanchor="middle",
                       showarrow=False, text=t, font=dict(family=FONT, size=11, color=TXT)))

annots.append(dict(xref="paper", yref="paper", x=fx(125), y=fy(361), xanchor="center", yanchor="middle",
                   showarrow=False, textangle=-90, text="<b>-log10(q-value)</b>",
                   font=dict(family=FONT, size=11, color="black")))
annots.append(dict(xref="paper", yref="paper", x=fx(65), y=fy(492), ax=77, ay=0, text="", showarrow=True,
                   arrowhead=2, arrowsize=1, arrowwidth=1.3, arrowcolor="#333333"))
annots.append(dict(xref="paper", yref="paper", x=fx(232), y=fy(492), ax=-77, ay=0, text="", showarrow=True,
                   arrowhead=2, arrowsize=1, arrowwidth=1.3, arrowcolor="#333333"))
annots.append(dict(xref="paper", yref="paper", x=fx(143), y=fy(512), xanchor="center", yanchor="middle",
                   showarrow=False, text="Correlation coefficient", font=dict(family=FONT, size=12, color=TXT)))
annots.append(dict(xref="paper", yref="paper", x=fx(102), y=fy(535), xanchor="center", yanchor="middle",
                   showarrow=False, text="Aneuploid cells<br>more dependent", font=dict(family=FONT, size=12, color=TXT)))
annots.append(dict(xref="paper", yref="paper", x=fx(197), y=fy(535), xanchor="center", yanchor="middle",
                   showarrow=False, text="Aneuploid cells<br>less dependent", font=dict(family=FONT, size=12, color=TXT)))
for col, txt, y in ((RED, "CKAP5", 565), (MAGENTA, "EB1, KIF2C, CENP-E, SKA1, SKA3", 584)):
    r = 3.2
    shapes.append(dict(type="circle", xref="paper", yref="paper", x0=fx(43 - r), x1=fx(43 + r),
                       y0=fy(y + r), y1=fy(y - r), fillcolor=col, line=dict(width=0)))
    annots.append(dict(xref="paper", yref="paper", x=fx(55), y=fy(y), xanchor="left", yanchor="middle",
                       showarrow=False, text=txt, font=dict(family=FONT, size=12, color=TXT)))

fig.update_layout(width=W, height=H, margin=dict(l=0, r=0, t=0, b=0, autoexpand=False),
                  paper_bgcolor="white", plot_bgcolor="white",
                  font=dict(family=FONT, color=TXT), showlegend=False,
                  shapes=shapes, annotations=annots)

fig.write_html("out.html", config={"displayModeBar": False},
               post_script="document.body.style.margin='0';document.body.style.overflow='hidden';")
